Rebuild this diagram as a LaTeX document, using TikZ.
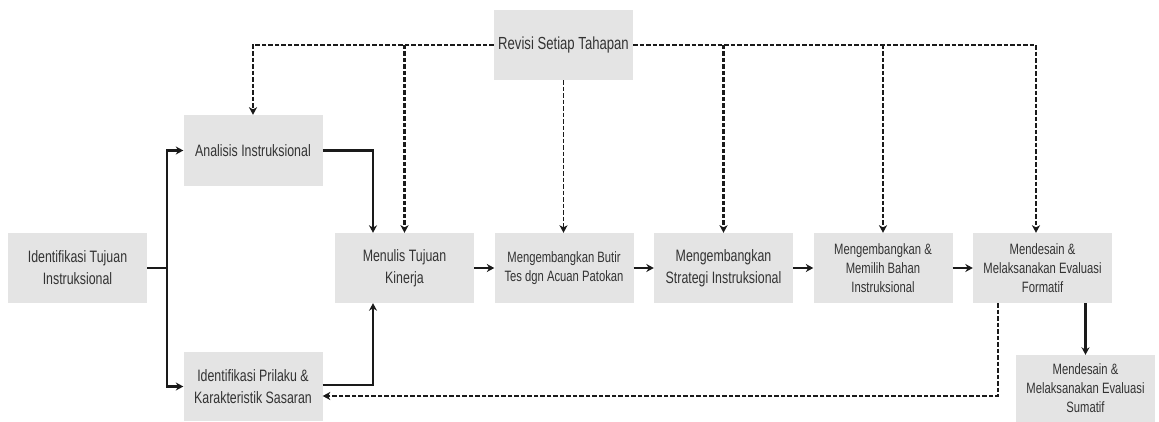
\documentclass[tikz,border=0pt]{standalone}
\usepackage{fontspec}
\setmainfont[FakeStretch=0.75]{Liberation Sans}
\usetikzlibrary{arrows.meta}
\definecolor{boxgray}{HTML}{E4E4E4}
\definecolor{txtgray}{HTML}{333333}
\definecolor{linek}{HTML}{1A1A1A}

\newcommand\fsBig{\fontsize{17.5}{22}\selectfont}
\newcommand\fsMid{\fontsize{16.5}{22}\selectfont}
\newcommand\fsSmall{\fontsize{15}{19}\selectfont}

\tikzset{
  stage/.style={fill=boxgray, draw=none, inner sep=0pt, align=center,
    text=txtgray, minimum width=139pt, minimum height=70pt, font=\fsMid},
  flow/.style={draw=linek, line width=2.5pt, -{Stealth[length=7.5pt,width=8pt]}},
  rev/.style={draw=linek, line width=2.2pt, dash pattern=on 4.5pt off 2pt},
  revarrow/.style={rev, -{Stealth[length=7.5pt,width=8pt,inset=2pt]}},
}

\begin{document}
\begin{tikzpicture}[x=1pt,y=-1pt]
\useasboundingbox (0,0) rectangle (1159,422);

% stages
\node[stage, font=\fsBig] (rev) at (563.5,45) {Revisi Setiap Tahapan};
\node[stage, minimum height=71pt] (ana) at (253,150.5) {Analisis Instruksional};
\node[stage] (tuj) at (77.5,268) {Identifikasi Tujuan\\Instruksional};
\node[stage, minimum height=69pt] (pri) at (253,386.5) {Identifikasi Prilaku \&\\Karakteristik Sasaran};
\node[stage] (men) at (404.5,268) {Menulis Tujuan\\Kinerja};
\node[stage, font=\fsSmall] (but) at (564,268) {Mengembangkan Butir\\Tes dgn Acuan Patokan};
\node[stage] (str) at (723.5,268) {Mengembangkan\\Strategi Instruksional};
\node[stage, font=\fsSmall] (pil) at (883,268) {Mengembangkan \&\\Memilih Bahan\\Instruksional};
\node[stage, font=\fsSmall] (for) at (1042.5,268) {Mendesain \&\\Melaksanakan Evaluasi\\Formatif};
\node[stage, font=\fsSmall, minimum height=67pt] (sum) at (1085.5,388.5) {Mendesain \&\\Melaksanakan Evaluasi\\Sumatif};

% main flow
\coordinate (split) at (167,268);
\draw[draw=linek, line width=2.5pt] (tuj.east) -- (split);
\draw[flow] (split) |- (ana.west);
\draw[flow] (split) |- (pri.west);
\draw[flow] (ana.east) -| ([xshift=-31.5pt]men.north);
\draw[flow] ([yshift=1.5pt]pri.east) -| ([xshift=-31.5pt]men.south);
\draw[flow] (men.east) -- (but.west);
\draw[flow] (but.east) -- (str.west);
\draw[flow] (str.east) -- (pil.west);
\draw[flow] (pil.east) -- (for.west);
\draw[flow] (for.south -| sum.north) -- (sum.north);

% revision paths
\draw[revarrow] (rev.west) -| (ana.north);
\draw[revarrow] (rev.west -| men.north) -- (men.north);
\draw[revarrow, line width=1.2pt] (rev.south) -- (rev.south |- but.north);
\draw[revarrow] (rev.east) -| ([xshift=-6.5pt]for.north);
\draw[revarrow] (rev.east -| str.north) -- (str.north);
\draw[revarrow] (rev.east -| pil.north) -- (pil.north);
\draw[revarrow] ([xshift=-44.5pt]for.south) |- ([yshift=-9.5pt]pri.east);
\end{tikzpicture}
\end{document}
